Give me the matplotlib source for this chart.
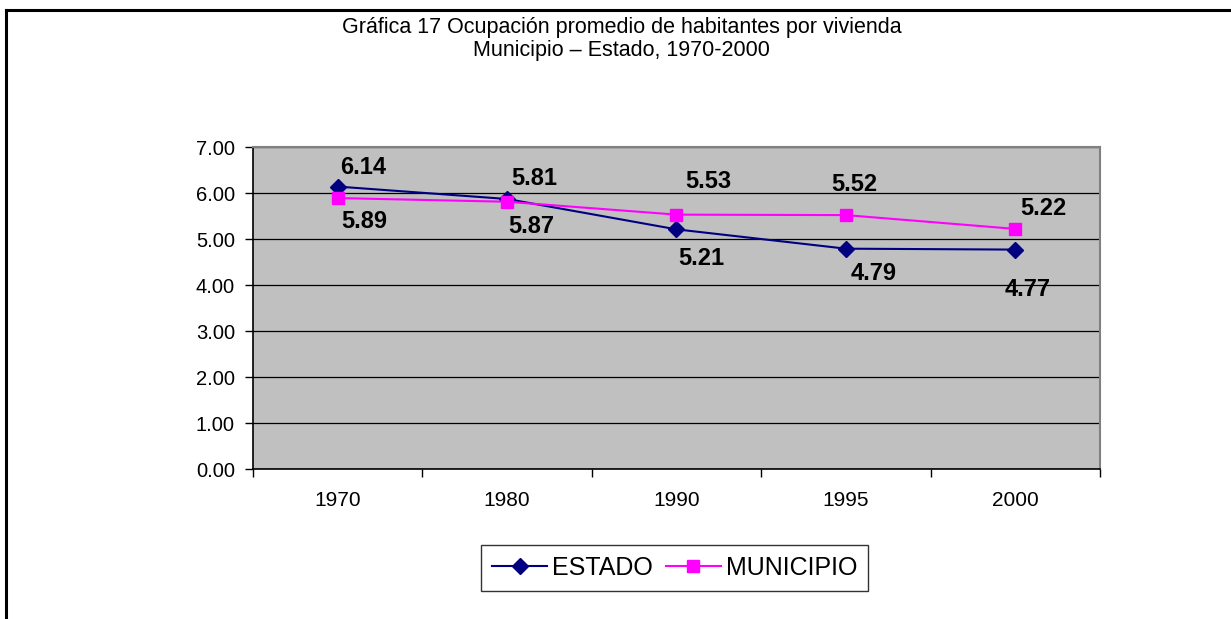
import matplotlib.pyplot as plt
from matplotlib.lines import Line2D

# data
years = ['1970', '1980', '1990', '1995', '2000']
estado = [6.14, 5.87, 5.21, 4.79, 4.77]
municipio = [5.89, 5.81, 5.53, 5.52, 5.22]

# label offsets (pixels) from the marker, as placed in the original
estado_off = [(25, 19), (24, -28), (25, -29), (28, -25), (12, -40)]
municipio_off = [(27, -23), (27, 23), (32, 33), (8, 31), (28, 20)]

plt.rcParams['font.family'] = ['Liberation Sans', 'DejaVu Sans']

fig = plt.figure(figsize=(12.31, 6.19), dpi=100)
ax = fig.add_axes([0.2055, 0.2423, 0.688, 0.5202])
ax.set_facecolor('#C0C0C0')

x = range(len(years))
ax.plot(x, estado, color='#000080', lw=1.5, marker='D', ms=8, label='ESTADO', zorder=3)
ax.plot(x, municipio, color='#FF00FF', lw=1.5, marker='s', ms=8, label='MUNICIPIO', zorder=3)

for i in x:
    ax.annotate('%.2f' % estado[i], (i, estado[i]), xytext=estado_off[i],
                textcoords='offset pixels', ha='center', va='center',
                fontsize=17, fontweight='bold')
    ax.annotate('%.2f' % municipio[i], (i, municipio[i]), xytext=municipio_off[i],
                textcoords='offset pixels', ha='center', va='center',
                fontsize=17, fontweight='bold')

ax.set_xlim(-0.5, len(years) - 0.5)
ax.set_ylim(0, 7)
ax.set_yticks(range(8))
ax.set_yticklabels(['%.2f' % v for v in range(8)], fontsize=14.5)
ax.set_xticks(list(x))
ax.set_xticklabels(years, fontsize=15)
ax.set_xticks([i - 0.5 for i in range(len(years) + 1)], minor=True)
ax.tick_params(axis='x', which='major', length=0, pad=16)
ax.tick_params(axis='x', which='minor', length=6, width=1, direction='out')
ax.tick_params(axis='y', length=6, width=1, direction='out', pad=7)

ax.grid(axis='y', color='black', lw=0.9)
ax.set_axisbelow(True)
for s in ['top', 'right']:
    ax.spines[s].set_color('#808080')
    ax.spines[s].set_linewidth(1.5)
for s in ['left', 'bottom']:
    ax.spines[s].set_color('black')
    ax.spines[s].set_linewidth(1.2)

fig.text(0.505, 0.956, 'Gráfica 17 Ocupación promedio de habitantes por vivienda',
         ha='center', va='center', fontsize=15.5)
fig.text(0.505, 0.919, 'Municipio – Estado, 1970-2000',
         ha='center', va='center', fontsize=15.5)

leg = fig.legend(loc='center', bbox_to_anchor=(0.548, 0.0824), ncol=2,
                 fontsize=18, frameon=True, fancybox=False, handlelength=2.2,
                 handletextpad=0.2, columnspacing=0.5, borderpad=0.45,
                 borderaxespad=0)
leg.get_frame().set_edgecolor('black')
leg.get_frame().set_linewidth(1)

# outer frame (only top and left edges visible)
fig.add_artist(Line2D([0.0049, 1.0], [0.9838, 0.9838], color='black', lw=2.2,
                      transform=fig.transFigure))
fig.add_artist(Line2D([0.0049, 0.0049], [0.0, 0.9838], color='black', lw=2.2,
                      transform=fig.transFigure))

fig.savefig('out.png', dpi=100)
